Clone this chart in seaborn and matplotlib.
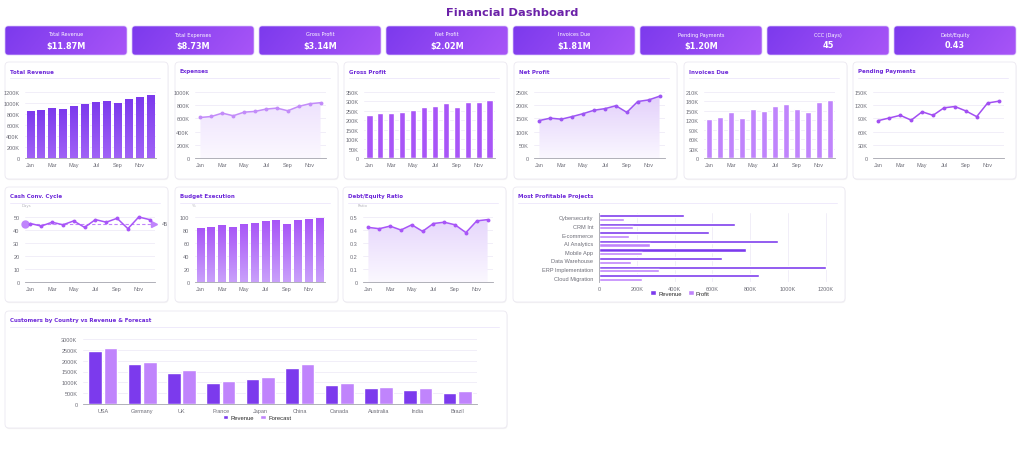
import numpy as np
import pandas as pd
import matplotlib
matplotlib.use('Agg')
import matplotlib.pyplot as plt
import seaborn as sns
from matplotlib.patches import FancyBboxPatch, Patch
from matplotlib.colors import LinearSegmentedColormap
from matplotlib.ticker import FuncFormatter, MultipleLocator

# ---- data (values in K unless noted) ----
months = ['Jan', 'Feb', 'Mar', 'Apr', 'May', 'Jun', 'Jul', 'Aug', 'Sep', 'Oct', 'Nov', 'Dec']
revenue = [847, 871, 914, 883, 944, 975, 1011, 1042, 993, 1072, 1109, 1145]
expenses = [614, 629, 680, 640, 695, 706, 741, 756, 716, 782, 822, 838]
gross_profit = [227, 238, 238, 243, 254, 268, 274, 290, 268, 295, 298, 309]
net_profit = [142, 151, 147, 157, 168, 181, 187, 198, 173, 214, 220, 234]
invoices_due = [124, 131, 145, 127, 155, 148, 167, 172, 157, 145, 177, 184]
pending_payments = [85, 91, 97, 86, 105, 97, 114, 117, 107, 94, 125, 129]
ccc_days = [45, 43, 46, 44, 47, 42, 48, 46, 49, 41, 50, 48]
budget_exec = [83, 85, 88, 85, 90, 91, 94, 95, 90, 95, 97, 98]
debt_equity = [0.42, 0.41, 0.43, 0.40, 0.44, 0.39, 0.45, 0.46, 0.44, 0.38, 0.47, 0.48]

kpi_labels = ['Total Revenue', 'Total Expenses', 'Gross Profit', 'Net Profit',
              'Invoices Due', 'Pending Payments', 'CCC (Days)', 'Debt/Equity']
kpi_values = ['$11.87M', '$8.73M', '$3.14M', '$2.02M', '$1.81M', '$1.20M', '45', '0.43']
ccc_avg = 45

projects = ['Cybersecurity', 'CRM Int', 'E-commerce', 'AI Analytics', 'Mobile App',
            'Data Warehouse', 'ERP Implementation', 'Cloud Migration']
project_revenue = [450, 720, 580, 950, 780, 650, 1200, 850]
project_profit = [130, 180, 160, 270, 230, 170, 320, 230]

countries = ['USA', 'Germany', 'UK', 'France', 'Japan', 'China', 'Canada', 'Australia', 'India', 'Brazil']
country_revenue = [2450, 1850, 1420, 970, 1150, 1680, 880, 720, 650, 520]
country_forecast = [2600, 1950, 1550, 1050, 1250, 1850, 950, 790, 750, 600]

# ---- style ----
DARK = '#7c3aed'
MID = '#a855f7'
LIGHT = '#c084fc'
TITLE_C = '#6d28d9'
GRID_C = '#efebf7'
AXIS_C = '#a4a4ad'
TICK_C = '#6e6e78'
TICK_FS = 4.0

sns.set_style('white')
plt.rcParams['font.family'] = ['DejaVu Sans']

W, H = 1024, 452
fig = plt.figure(figsize=(W / 100, H / 100), dpi=100)
fig.patch.set_facecolor('white')


def px(x0, y0, x1, y1):
    return [x0 / W, 1 - y1 / H, (x1 - x0) / W, (y1 - y0) / H]


bg = fig.add_axes([0, 0, 1, 1])
bg.axis('off')


def card(x0, y0, x1, y1, title=None):
    w, h = x1 - x0, y1 - y0
    bg.add_patch(FancyBboxPatch((x0 + 0.6, y0 + 1.2), w, h, boxstyle='round,pad=0,rounding_size=4',
                                fc='#000000', ec='none', alpha=0.045))
    bg.add_patch(FancyBboxPatch((x0, y0), w, h, boxstyle='round,pad=0,rounding_size=4',
                                fc='white', ec='#ebe8f1', lw=0.6))
    if title:
        bg.text(x0 + 5, y0 + 9, title, fontsize=4.0, fontweight='bold', color=TITLE_C, va='center')
        bg.plot([x0 + 5, x1 - 8], [y0 + 15.5, y0 + 15.5], color='#ece6fb', lw=0.6)


def kpi(x0, y0, x1, y1, label, value):
    box = FancyBboxPatch((x0, y0), x1 - x0, y1 - y0, boxstyle='round,pad=0,rounding_size=3',
                         fc='none', ec='#d9c7fb', lw=0.5)
    bg.add_patch(box)
    gx = np.linspace(0, 1, 200)[None, :]
    gy = np.linspace(0, 1, 30)[:, None]
    grad = gx * 0.85 + gy * 0.15
    cmap = LinearSegmentedColormap.from_list('k', [DARK, MID])
    im = bg.imshow(grad, extent=(x0, x1, y1, y0), aspect='auto', cmap=cmap, zorder=0.5)
    im.set_clip_path(box)
    xc = (x0 + x1) / 2
    bg.text(xc, y0 + 8, label, fontsize=3.6, color='white', ha='center', va='center', zorder=3)
    bg.text(xc, y0 + 19, value, fontsize=5.9, fontweight='bold', color='white', ha='center', va='center', zorder=3)


def k_fmt(v, _):
    return '0' if v == 0 else f'{v:g}K'


def plain_fmt(v, _):
    return f'{v:g}'


def style_axes(ax, top, step, fmt=k_fmt):
    ax.set_facecolor('none')
    for s in ['top', 'right', 'left']:
        ax.spines[s].set_visible(False)
    ax.spines['bottom'].set_color(AXIS_C)
    ax.spines['bottom'].set_linewidth(0.6)
    ax.set_ylim(0, top)
    ax.yaxis.set_major_locator(MultipleLocator(step))
    ax.yaxis.set_major_formatter(FuncFormatter(fmt))
    ax.grid(axis='y', color=GRID_C, lw=0.6)
    ax.set_axisbelow(True)
    ax.tick_params(axis='y', length=0, labelsize=TICK_FS, labelcolor=TICK_C, pad=4)
    ax.tick_params(axis='x', which='major', length=0, labelsize=TICK_FS, labelcolor=TICK_C, pad=3)
    ax.set_xlabel('')
    ax.set_ylabel('')
    for t in ax.get_yticklabels() + ax.get_xticklabels():
        t.set_family('Liberation Sans')


def month_axis(ax):
    ax.set_xlim(-0.5, 11.5)
    ax.set_xticks(range(0, 12, 2))
    ax.set_xticklabels(months[::2], family='Liberation Sans')
    ax.set_xticks(np.arange(-0.5, 12, 2), minor=True)
    ax.tick_params(axis='x', which='minor', length=2.2, color=AXIS_C, width=0.6)


def gradient_bars(ax, top_c, bot_c):
    cmap = LinearSegmentedColormap.from_list('b', [bot_c, top_c])
    grad = np.linspace(0, 1, 100)[:, None]
    for p in ax.patches:
        x, w, h = p.get_x(), p.get_width(), p.get_height()
        im = ax.imshow(grad, extent=(x, x + w, 0, h), origin='lower', aspect='auto',
                       cmap=cmap, zorder=p.get_zorder())
        im.set_clip_path(p)


def area_gradient(ax, y, top_c, bot_c):
    x = np.arange(len(y))
    poly = ax.fill_between(x, y, 0, facecolor='none', edgecolor='none')
    cmap = LinearSegmentedColormap.from_list('a', [bot_c, top_c])
    grad = np.linspace(0, 1, 100)[:, None]
    im = ax.imshow(grad, extent=(x[0], x[-1], 0, max(y)), origin='lower', aspect='auto',
                   cmap=cmap, zorder=0.8)
    im.set_clip_path(poly.get_paths()[0], transform=ax.transData)


def bar_panel(rect, vals, color, width, top, step, grad=None, fmt=k_fmt):
    ax = fig.add_axes(px(*rect))
    sns.barplot(x=months, y=vals, ax=ax, color=color, width=width, saturation=1)
    if grad:
        gradient_bars(ax, *grad)
    style_axes(ax, top, step, fmt)
    month_axis(ax)
    return ax


def line_panel(rect, vals, color, top, step, area=None, fmt=k_fmt):
    ax = fig.add_axes(px(*rect))
    x = np.arange(12)
    if area:
        area_gradient(ax, vals, *area)
    sns.lineplot(x=x, y=vals, ax=ax, color=color, lw=1.1, marker='o', markersize=2.8,
                 markeredgewidth=0, zorder=3, clip_on=False)
    style_axes(ax, top, step, fmt)
    month_axis(ax)
    return ax


# ---- title and KPI row ----
bg.text(W / 2, 12.5, 'Financial Dashboard', fontsize=8.2, fontweight='bold', color='#6b21a8',
        ha='center', va='center')
kpi_x = [5, 132, 259, 386, 513, 640, 767, 894]
for kx, lab, val in zip(kpi_x, kpi_labels, kpi_values):
    kpi(kx, 27, kx + 122, 56, lab, val)

# ---- row 1 ----
row1_x = [5, 175, 344, 514, 684, 853]
row1_titles = ['Total Revenue', 'Expenses', 'Gross Profit', 'Net Profit', 'Invoices Due', 'Pending Payments']
for cx, t in zip(row1_x, row1_titles):
    card(cx, 63, cx + 163, 180, t)


def r1(cx):
    return (cx + 20, 93, cx + 151, 159)


bar_panel(r1(row1_x[0]), revenue, DARK, 0.72, 1200, 200, grad=(DARK, '#a062f6'))
line_panel(r1(row1_x[1]), expenses, '#c38cf9', 1000, 200, area=('#eee2fd', '#fbf8ff'))
bar_panel(r1(row1_x[2]), gross_profit, MID, 0.56, 350, 50)
line_panel(r1(row1_x[3]), net_profit, '#9d55f3', 250, 50, area=('#e3d0fb', '#faf7ff'))
bar_panel(r1(row1_x[4]), invoices_due, LIGHT, 0.55, 210, 30)
line_panel(r1(row1_x[5]), pending_payments, '#a24ff2', 150, 30)

# ---- row 2 ----
row2_x = [5, 175, 343]
row2_titles = ['Cash Conv. Cycle', 'Budget Execution', 'Debt/Equity Ratio']
for cx, t in zip(row2_x, row2_titles):
    card(cx, 188, cx + 163, 303, t)


def r2(cx):
    return (cx + 20, 218, cx + 150, 283)


ax_ccc = line_panel(r2(row2_x[0]), ccc_days, '#a855f7', 50, 10, fmt=plain_fmt)
ax_ccc.plot([-0.5, 11.3], [ccc_avg, ccc_avg], ls=(0, (3, 2)), color=LIGHT, lw=0.8, zorder=2)
ax_ccc.plot([-0.5], [ccc_avg], 'o', color=LIGHT, markersize=5, clip_on=False, zorder=2)
ax_ccc.plot([11.45], [ccc_avg], '>', color=LIGHT, markersize=4.5, clip_on=False, zorder=2)
ax_ccc.text(12.1, ccc_avg, str(ccc_avg), fontsize=TICK_FS, color=TICK_C, va='center', family='Liberation Sans')
bg.text(row2_x[0] + 17, 206, 'Days', fontsize=2.8, color='#b5b5bd', va='center')

bar_panel(r2(row2_x[1]), budget_exec, MID, 0.7, 100, 20, grad=(MID, '#c9a0fb'), fmt=plain_fmt)
bg.text(row2_x[1] + 17, 206, '%', fontsize=2.8, color='#b5b5bd', va='center')

line_panel(r2(row2_x[2]), debt_equity, '#a855f7', 0.5, 0.1, area=('#e6d6fc', '#fbf8ff'), fmt=plain_fmt)
bg.text(row2_x[2] + 15, 206, 'Ratio', fontsize=2.8, color='#b5b5bd', va='center')

# ---- most profitable projects ----
card(513, 188, 845, 303, 'Most Profitable Projects')
ax_p = fig.add_axes(px(599, 214, 835, 283))
df_p = pd.DataFrame({'project': projects * 2,
                     'value': project_revenue + project_profit,
                     'series': ['Revenue'] * len(projects) + ['Profit'] * len(projects)})
sns.barplot(data=df_p, y='project', x='value', hue='series', orient='h', ax=ax_p,
            palette=[DARK, LIGHT], width=0.84, gap=0.12, saturation=1, legend=False)
ax_p.set_facecolor('none')
for s in ['top', 'right', 'bottom']:
    ax_p.spines[s].set_visible(False)
ax_p.spines['left'].set_color(AXIS_C)
ax_p.spines['left'].set_linewidth(0.6)
ax_p.set_xlim(0, 1250)
ax_p.set_ylim(7.5, -0.5)
ax_p.xaxis.set_major_locator(MultipleLocator(200))
ax_p.xaxis.set_major_formatter(FuncFormatter(k_fmt))
ax_p.set_yticks(np.arange(-0.5, 8, 1), minor=True)
ax_p.grid(axis='x', color=GRID_C, lw=0.6)
ax_p.set_axisbelow(True)
ax_p.tick_params(axis='x', length=0, labelsize=TICK_FS, labelcolor=TICK_C, pad=3)
ax_p.tick_params(axis='y', which='major', length=0, labelsize=4.1, labelcolor=TICK_C, pad=4)
ax_p.tick_params(axis='y', which='minor', length=2.2, color=AXIS_C, width=0.6)
for t in ax_p.get_xticklabels() + ax_p.get_yticklabels():
    t.set_family('Liberation Sans')
ax_p.set_xlabel('')
ax_p.set_ylabel('')
fig.legend([Patch(fc=DARK), Patch(fc=LIGHT)], ['Revenue', 'Profit'], loc='center',
           bbox_to_anchor=(680 / W, 1 - 294 / H), ncol=2, frameon=False,
           handlelength=1.0, handleheight=0.8, handletextpad=0.4, columnspacing=1.0,
           prop={'family': 'Liberation Sans', 'size': 4.2})

# ---- customers by country ----
card(5, 312, 507, 429, 'Customers by Country vs Revenue & Forecast')
ax_c = fig.add_axes(px(83, 340, 477, 405))
df_c = pd.DataFrame({'country': countries * 2,
                     'value': country_revenue + country_forecast,
                     'series': ['Revenue'] * len(countries) + ['Forecast'] * len(countries)})
sns.barplot(data=df_c, x='country', y='value', hue='series', ax=ax_c,
            palette=[DARK, LIGHT], width=0.78, gap=0.12, saturation=1, legend=False)
style_axes(ax_c, 3000, 500)
ax_c.set_xlim(-0.5, 9.5)
ax_c.set_xticks(np.arange(-0.5, 10, 1), minor=True)
ax_c.tick_params(axis='x', which='minor', length=2.2, color=AXIS_C, width=0.6)
for t in ax_c.get_xticklabels():
    t.set_family('Liberation Sans')
fig.legend([Patch(fc=DARK), Patch(fc=LIGHT)], ['Revenue', 'Forecast'], loc='center',
           bbox_to_anchor=(257 / W, 1 - 418.5 / H), ncol=2, frameon=False,
           handlelength=1.0, handleheight=0.8, handletextpad=0.4, columnspacing=1.0,
           prop={'family': 'Liberation Sans', 'size': 4.2})

bg.set_xlim(0, W)
bg.set_ylim(H, 0)

fig.savefig('out.png', dpi=100, facecolor='white')
